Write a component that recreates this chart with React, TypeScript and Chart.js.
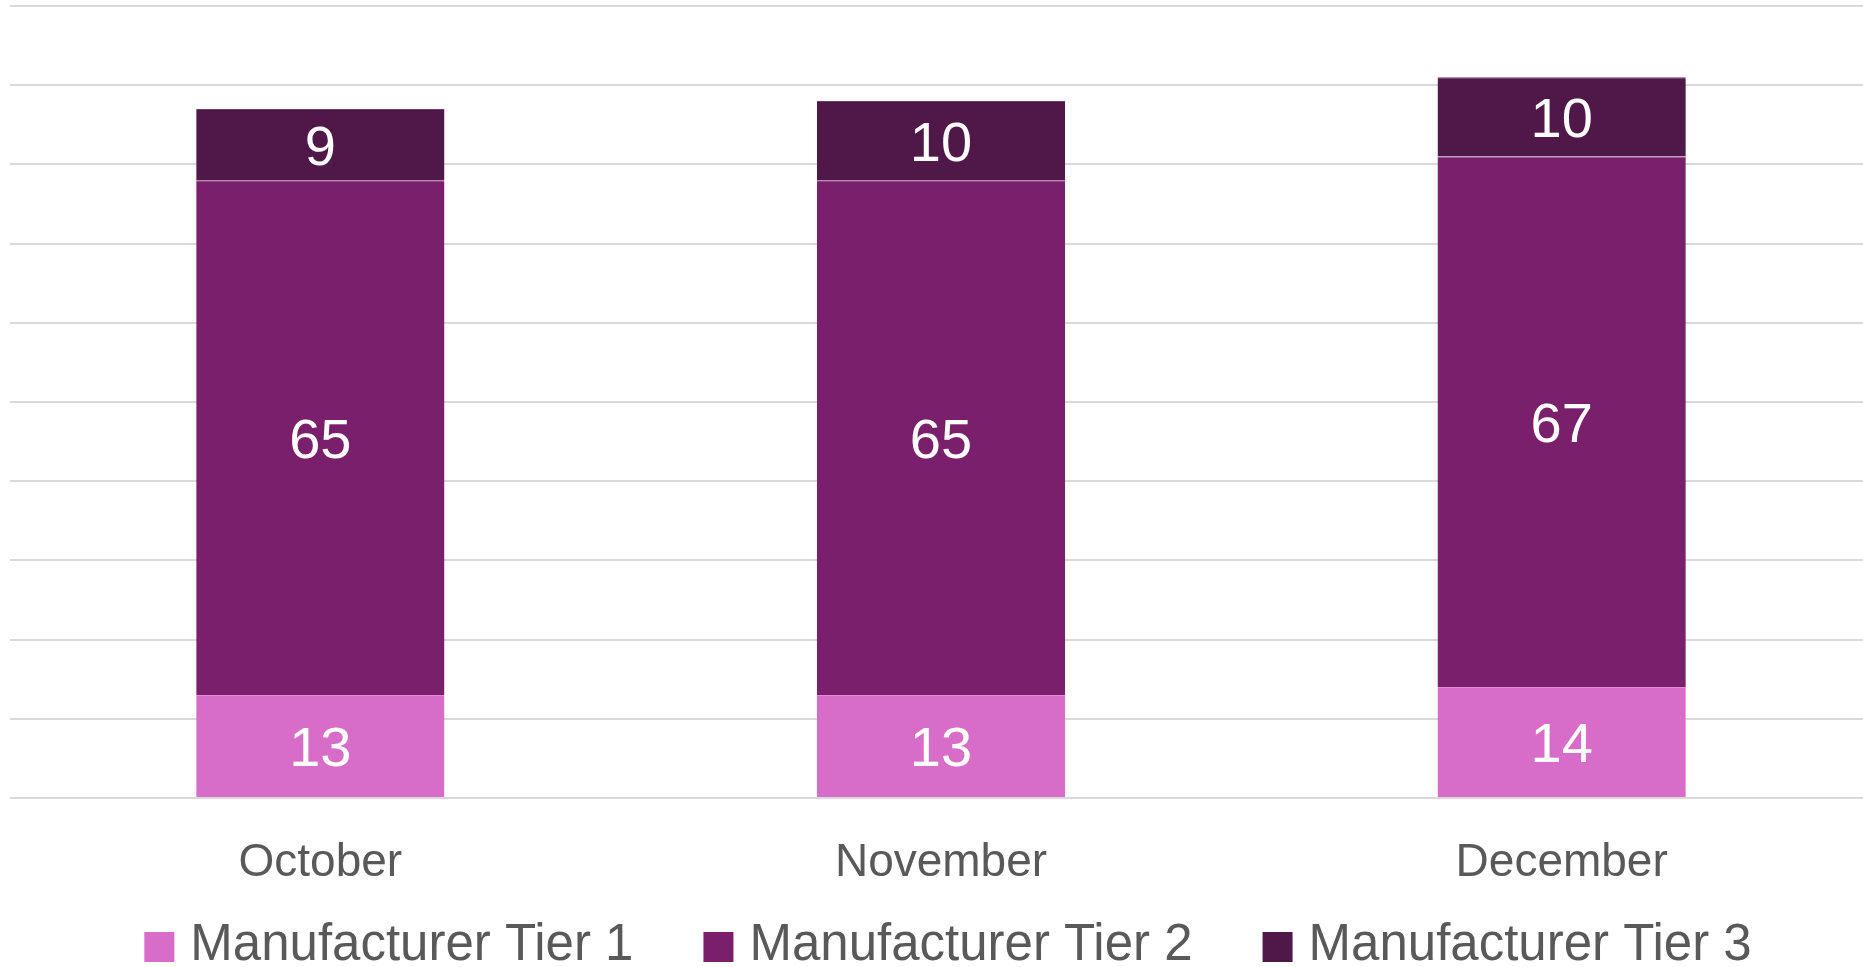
import React, { useEffect, useRef } from "react";
import { Chart, registerables } from "chart.js";

Chart.register(...registerables);

const categories = ["October", "November", "December"];
const seriesNames = ["Manufacturer Tier 1", "Manufacturer Tier 2", "Manufacturer Tier 3"];
const tier1 = [13, 13, 14];
const tier2 = [65, 65, 67];
const tier3 = [9, 10, 10];
const yMax = 100;
const yStep = 10;

const fillColors = ["#D76DC8", "#7A1F6C", "#501848"];
const edgeColors = ["#E08BD4", "#8A3A7E", "#6E3A66"];
const FONT = "'Liberation Sans', Arial, sans-serif";

const valueLabels = {
  id: "valueLabels",
  afterDatasetsDraw(chart: any) {
    const ctx = chart.ctx;
    ctx.save();
    ctx.font = `56px ${FONT}`;
    ctx.fillStyle = "#ffffff";
    ctx.textAlign = "center";
    ctx.textBaseline = "middle";
    chart.data.datasets.forEach((ds: any, i: number) => {
      const meta = chart.getDatasetMeta(i);
      meta.data.forEach((bar: any, j: number) => {
        const { x, y, base } = bar.getProps(["x", "y", "base"], true);
        ctx.fillText(String(ds.data[j]), x, (y + base) / 2 + 5);
      });
    });
    ctx.restore();
  },
};

// Legend drawn below the axis labels (Office-style spacing)
const bottomLegend = {
  id: "bottomLegend",
  afterDraw(chart: any) {
    const ctx = chart.ctx;
    const box = 30;
    const gap = 16;
    const itemGap = 70;
    const centerX = 948;
    const centerY = 946;
    ctx.save();
    ctx.font = `51px ${FONT}`;
    ctx.textBaseline = "middle";
    ctx.textAlign = "left";
    const items = chart.data.datasets.map((ds: any) => ({
      text: ds.label,
      color: ds.backgroundColor,
      w: ctx.measureText(ds.label).width,
    }));
    const total =
      items.reduce((s: number, it: any) => s + box + gap + it.w, 0) + itemGap * (items.length - 1);
    let x = centerX - total / 2;
    items.forEach((it: any) => {
      ctx.fillStyle = it.color;
      ctx.fillRect(x, centerY + 1 - box / 2, box, box);
      ctx.fillStyle = "#595959";
      ctx.fillText(it.text, x + box + gap, centerY);
      x += box + gap + it.w + itemGap;
    });
    ctx.restore();
  },
};

export default function App() {
  const ref = useRef<HTMLCanvasElement | null>(null);

  useEffect(() => {
    if (!ref.current) return;
    const values = [tier1, tier2, tier3];
    const chart = new Chart(ref.current, {
      type: "bar",
      data: {
        labels: categories,
        datasets: seriesNames.map((name, i) => ({
          label: name,
          data: values[i],
          backgroundColor: fillColors[i],
          borderColor: edgeColors[i],
          borderWidth: { top: 1, left: 0, right: 0, bottom: 0 },
          borderSkipped: false,
          barPercentage: 0.4,
          categoryPercentage: 1,
        })),
      },
      options: {
        responsive: false,
        animation: false,
        devicePixelRatio: 1,
        layout: { padding: { left: 10, right: 0, top: 6, bottom: 75 } },
        scales: {
          x: {
            stacked: true,
            grid: { display: false, drawTicks: false },
            border: { display: false },
            ticks: {
              color: "#595959",
              font: { family: FONT, size: 46 },
              padding: 38,
            },
            afterFit: (scale: any) => {
              scale.height = 94;
            },
          },
          y: {
            stacked: true,
            min: 0,
            max: yMax,
            ticks: { display: false, stepSize: yStep },
            grid: { color: "#d9d9d9", lineWidth: 2, drawTicks: false },
            border: { display: false },
          },
        },
        plugins: {
          tooltip: { enabled: false },
          legend: { display: false },
        },
      },
      plugins: [valueLabels, bottomLegend],
    });
    return () => chart.destroy();
  }, []);

  return (
    <div
      style={{
        position: "absolute",
        left: 0,
        top: 0,
        width: 1863,
        height: 967,
        overflow: "hidden",
        background: "#ffffff",
      }}
    >
      <canvas ref={ref} width={1872} height={967} style={{ display: "block" }} />
    </div>
  );
}
